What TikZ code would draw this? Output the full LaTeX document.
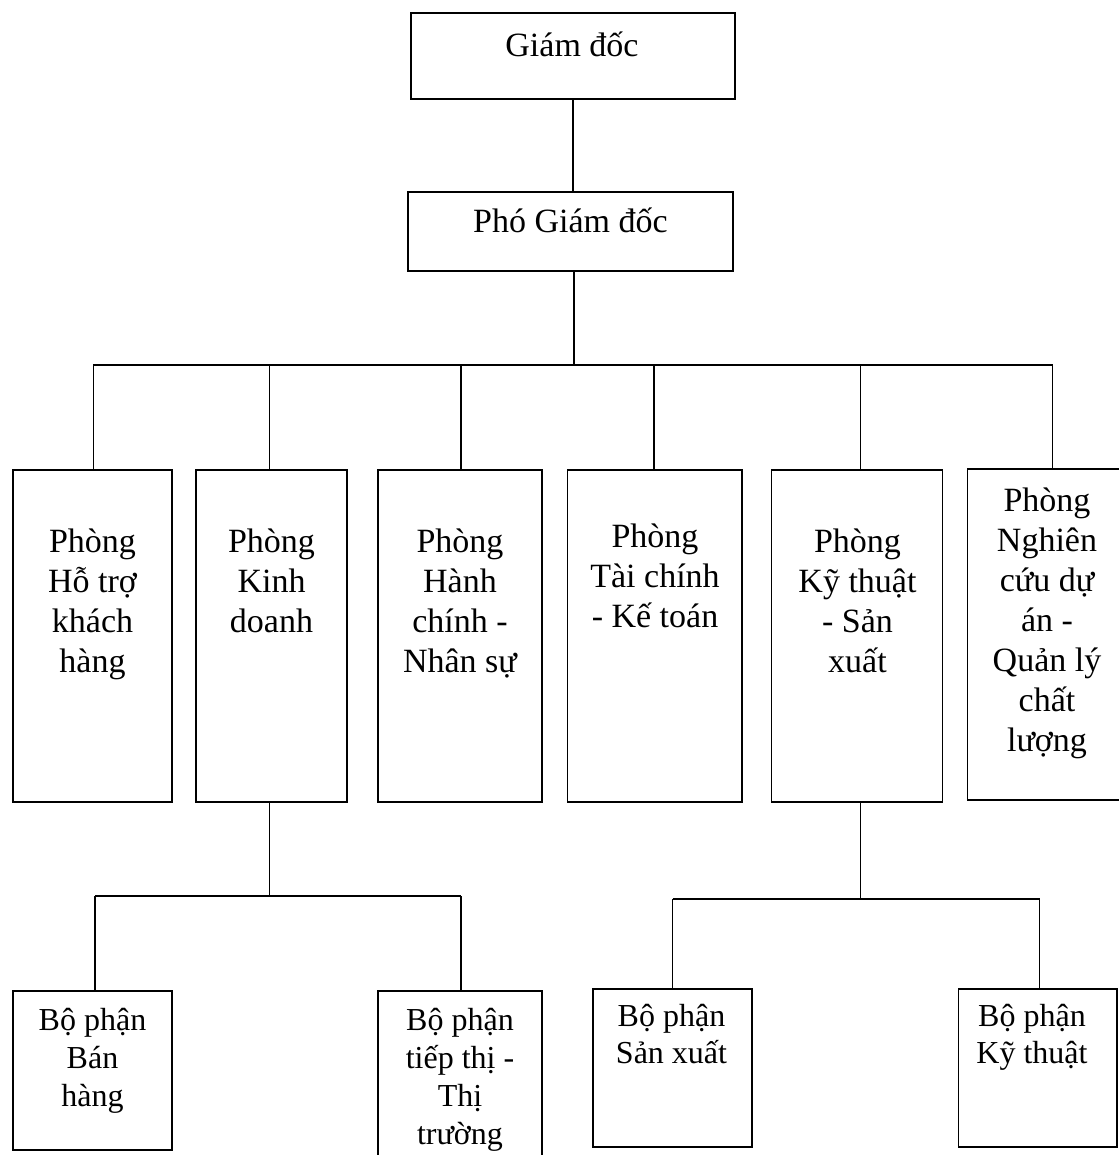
\documentclass[tikz,border=0pt]{standalone}
\usepackage{fontspec}
\setmainfont{Liberation Serif}
\begin{document}
\begin{tikzpicture}[x=1pt,y=-1pt,
  box/.style={draw, line width=1.5pt, rectangle, inner sep=0pt},
  conn/.style={line width=1.3pt},
  bar/.style={line width=1.8pt},
  bigtxt/.style={align=center, inner sep=0pt, font={\fontsize{34}{40}\selectfont\lineskiplimit-100pt\relax}},
  smtxt/.style={align=center, inner sep=0pt, font={\fontsize{32}{38}\selectfont\lineskiplimit-100pt\relax}},
  smtxtb/.style={align=center, inner sep=0pt, font={\fontsize{32}{37}\selectfont\lineskiplimit-100pt\relax}}]
\fill[white] (0,0) rectangle (1118,1155);
\useasboundingbox (0,0) rectangle (1118,1155);

% top boxes
\node[box, minimum width=324pt, minimum height=86pt] (gd) at (573,56) {};
\node[bigtxt] (tgd) at (572,49) {\strut Giám đốc\strut};
\node[box, minimum width=325pt, minimum height=79pt] (pgd) at (570.5,231.5) {};
\node[bigtxt] (tpgd) at (570.5,225) {\strut Phó Giám đốc\strut};

% department boxes
\node[box, minimum width=159pt, minimum height=332pt] (b1) at (92.5,636) {};
\node[box, minimum width=151pt, minimum height=332pt] (b2) at (271.5,636) {};
\node[box, minimum width=164pt, minimum height=332pt] (b3) at (460,636) {};
\node[box, minimum width=174.5pt, minimum height=332pt] (b4) at (654.75,636) {};
\node[box, minimum width=171pt, minimum height=332pt] (b5) at (857,636) {};
\node[box, minimum width=156pt, minimum height=331pt] (b6) at (1045.5,634.5) {};

\node[bigtxt] (t1) at (92.5,604) {\strut Phòng\\Hỗ trợ\\khách\\hàng\strut};
\node[bigtxt] (t2) at (271.5,584) {\strut Phòng\\Kinh\\doanh\strut};
\node[bigtxt] (t3) at (460,604) {\strut Phòng\\Hành\\chính -\\Nhân sự\strut};
\node[bigtxt] (t4) at (655,579) {\strut Phòng\\Tài chính\\- Kế toán\strut};
\node[bigtxt] (t5) at (857.5,604) {\strut Phòng\\Kỹ thuật\\- Sản\\xuất\strut};
\node[bigtxt] (t6) at (1047,623) {\strut Phòng\\Nghiên\\cứu dự\\án -\\Quản lý\\chất\\lượng\strut};

% sub boxes
\node[box, minimum width=159pt, minimum height=159pt] (bh) at (92.5,1070.5) {};
\node[box, minimum width=164pt, minimum height=174pt] (tt) at (460,1078) {};
\node[box, minimum width=159pt, minimum height=158pt] (sx) at (672.5,1068) {};
\node[box, minimum width=158.4pt, minimum height=158pt] (kt) at (1037.8,1068) {};

\node[smtxt] (tbh) at (92.5,1061) {\strut Bộ phận\\Bán\\hàng\strut};
\node[smtxt] (ttt) at (460,1080) {\strut Bộ phận\\tiếp thị -\\Thị\\trường\strut};
\node[smtxtb] (tsx) at (671.5,1038) {\strut Bộ phận\\Sản xuất\strut};
\node[smtxtb] (tkt) at (1032,1038) {\strut Bộ phận\\Kỹ thuật\strut};

% connectors top
\draw[conn] (gd.south) -- (gd.south |- pgd.north);
\coordinate (j0) at (574,365);
\draw[conn] (pgd.south -| j0) -- (j0);
\coordinate (c1) at (93.4,365);
\coordinate (c2) at (269.5,365);
\coordinate (c3) at (461,365);
\coordinate (c4) at (654,365);
\coordinate (c5) at (860.6,365);
\coordinate (c6) at (1052.7,365);
\draw[bar] (c1) -- (c6);
\foreach \i in {1,...,6}{
  \draw[conn] (c\i) -- (c\i |- b\i.north);
}

% connectors Kinh doanh
\coordinate (k0) at (269.5,896);
\coordinate (kl) at (95,896);
\coordinate (kr) at (461,896);
\draw[conn] (b2.south -| k0) -- (k0);
\draw[bar] (kl) -- (kr);
\draw[conn] (kl) -- (kl |- bh.north);
\draw[conn] (kr) -- (kr |- tt.north);

% connectors Ky thuat - San xuat
\coordinate (s0) at (860.6,899);
\coordinate (sl) at (672.5,899);
\coordinate (sr) at (1039.6,899);
\draw[conn] (b5.south -| s0) -- (s0);
\draw[bar] (sl) -- (sr);
\draw[conn] (sl) -- (sl |- sx.north);
\draw[conn] (sr) -- (sr |- kt.north);
\end{tikzpicture}
\end{document}
